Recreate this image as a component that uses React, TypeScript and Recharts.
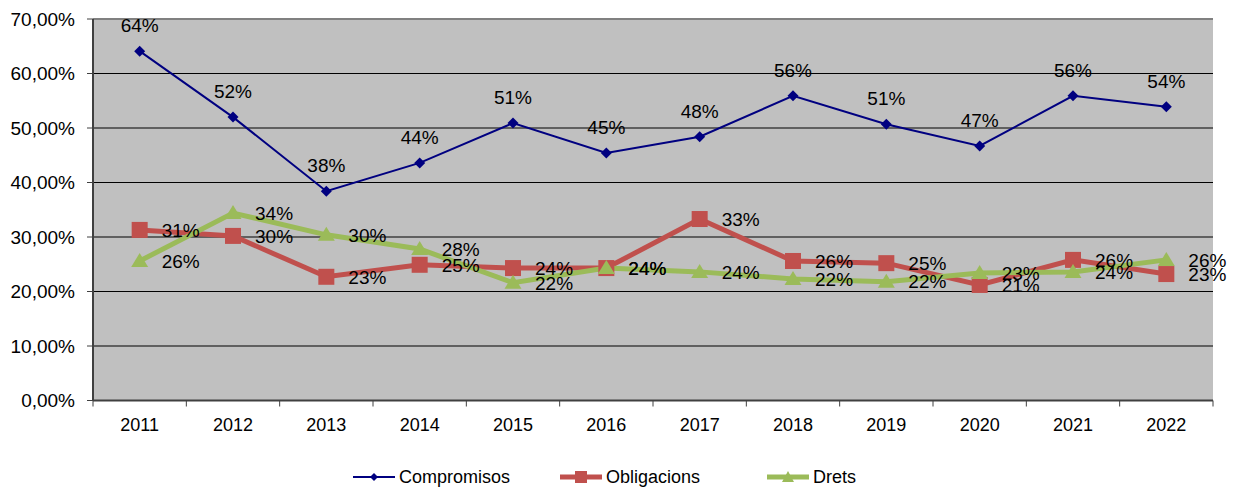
import {
  CartesianGrid,
  LabelList,
  Line,
  LineChart,
  ReferenceLine,
  XAxis,
  YAxis,
} from "recharts";

const years = ["2011", "2012", "2013", "2014", "2015", "2016", "2017", "2018", "2019", "2020", "2021", "2022"];
const compromisos = [64.1, 52.0, 38.4, 43.6, 50.9, 45.4, 48.4, 55.9, 50.7, 46.7, 55.9, 53.9];
const obligacions = [31.3, 30.2, 22.7, 24.9, 24.3, 24.3, 33.3, 25.6, 25.2, 21.2, 25.8, 23.2];
const drets = [25.6, 34.4, 30.4, 27.8, 21.6, 24.3, 23.6, 22.3, 21.8, 23.4, 23.6, 25.8];
const yTicks = [0, 10, 20, 30, 40, 50, 60, 70];

const chartData = years.map((year, i) => ({
  year,
  compromisos: compromisos[i],
  obligacions: obligacions[i],
  drets: drets[i],
}));

const FONT = '"Liberation Sans", Arial, sans-serif';
const NAVY = "#000080";
const RED = "#C0504D";
const GREEN = "#9BBB59";

const WIDTH = 1227;
const HEIGHT = 483;
const MARGIN = { top: 11, right: 22, left: 0, bottom: 60 };
const Y_AXIS_W = 85;
const X_AXIS_H = 30.5;
const PLOT_W = WIDTH - MARGIN.left - MARGIN.right - Y_AXIS_W;
const BAND = PLOT_W / years.length;
const AXIS_Y = HEIGHT - MARGIN.bottom - X_AXIS_H;

const pct = (v: any) => `${Math.round(Number(v))}%`;

function diamondDot(props: any) {
  const { cx, cy, index } = props;
  if (cx == null || cy == null) return <g key={`d-${index}`} />;
  const r = 5.5;
  return (
    <path
      key={`d-${index}`}
      d={`M${cx},${cy - r}L${cx + r},${cy}L${cx},${cy + r}L${cx - r},${cy}Z`}
      fill={NAVY}
    />
  );
}

function squareDot(props: any) {
  const { cx, cy, index } = props;
  if (cx == null || cy == null) return <g key={`s-${index}`} />;
  return <rect key={`s-${index}`} x={cx - 8} y={cy - 8} width={16} height={16} fill={RED} />;
}

function triangleDot(props: any) {
  const { cx, cy, index } = props;
  if (cx == null || cy == null) return <g key={`t-${index}`} />;
  return (
    <path
      key={`t-${index}`}
      d={`M${cx},${cy - 8}L${cx + 8.5},${cy + 6}L${cx - 8.5},${cy + 6}Z`}
      fill={GREEN}
    />
  );
}

function YearTick(props: any) {
  const { x, payload, index } = props;
  const half = BAND / 2;
  return (
    <g>
      <line x1={x - half} x2={x - half} y1={AXIS_Y} y2={AXIS_Y + 6} stroke="#404040" />
      {index === years.length - 1 && (
        <line x1={x + half} x2={x + half} y1={AXIS_Y} y2={AXIS_Y + 6} stroke="#404040" />
      )}
      <text
        x={x}
        y={AXIS_Y + 18}
        dy="0.71em"
        textAnchor="middle"
        fill="#000"
        fontSize={18}
        fontFamily={FONT}
      >
        {payload.value}
      </text>
    </g>
  );
}

function LegendIcon({ kind }: { kind: "diamond" | "square" | "triangle" }) {
  const color = kind === "diamond" ? NAVY : kind === "square" ? RED : GREEN;
  return (
    <svg width={44} height={14} style={{ marginRight: 3 }}>
      <line x1={1} x2={43} y1={7} y2={7} stroke={color} strokeWidth={kind === "diamond" ? 2 : 5} />
      {kind === "diamond" && <path d="M22,3L26,7L22,11L18,7Z" fill={color} />}
      {kind === "square" && <rect x={16} y={1} width={12} height={12} fill={color} />}
      {kind === "triangle" && <path d="M22,1L28,12L16,12Z" fill={color} />}
    </svg>
  );
}

const legendItems = [
  { name: "Compromisos", kind: "diamond" as const, width: 207 },
  { name: "Obligacions", kind: "square" as const, width: 207 },
  { name: "Drets", kind: "triangle" as const, width: 125 },
];

export default function App() {
  return (
    <div style={{ position: "relative", width: WIDTH, height: HEIGHT, background: "#fff" }}>
      <LineChart width={WIDTH} height={HEIGHT} data={chartData} margin={MARGIN}>
        <CartesianGrid vertical={false} stroke="#000" fill="#C0C0C0" fillOpacity={1} />
        <XAxis
          dataKey="year"
          height={X_AXIS_H}
          padding={{ left: BAND / 2, right: BAND / 2 }}
          interval={0}
          tickLine={false}
          axisLine={{ stroke: "#404040", strokeWidth: 2 }}
          tick={<YearTick />}
        />
        <YAxis
          width={Y_AXIS_W}
          domain={[0, 70]}
          ticks={yTicks}
          interval={0}
          tickSize={6}
          tickMargin={12}
          tickLine={{ stroke: "#404040" }}
          axisLine={{ stroke: "#404040", strokeWidth: 2 }}
          tickFormatter={(v) => `${Number(v).toFixed(2).replace(".", ",")}%`}
          tick={{ fontSize: 19, fill: "#000", fontFamily: FONT }}
        />
        <YAxis
          yAxisId="r"
          orientation="right"
          width={0}
          domain={[0, 70]}
          tick={false}
          tickLine={false}
          axisLine={{ stroke: "#808080", strokeWidth: 2 }}
        />
        <ReferenceLine y={70} stroke="#808080" strokeWidth={2} />

        <Line dataKey="compromisos" stroke={NAVY} strokeWidth={2} dot={false} activeDot={false} isAnimationActive={false} />
        <Line dataKey="obligacions" stroke={RED} strokeWidth={5} dot={false} activeDot={false} isAnimationActive={false} />
        <Line dataKey="drets" stroke={GREEN} strokeWidth={5} dot={false} activeDot={false} isAnimationActive={false} />

        <Line dataKey="compromisos" stroke="none" dot={diamondDot} activeDot={false} isAnimationActive={false}>
          <LabelList
            dataKey="compromisos"
            position="top"
            offset={19}
            formatter={pct}
            fill="#000"
            stroke="none"
            fontSize={19}
            fontFamily={FONT}
          />
        </Line>
        <Line dataKey="obligacions" stroke="none" dot={squareDot} activeDot={false} isAnimationActive={false}>
          <LabelList
            dataKey="obligacions"
            position="right"
            offset={22}
            formatter={pct}
            fill="#000"
            stroke="none"
            fontSize={19}
            fontFamily={FONT}
          />
        </Line>
        <Line dataKey="drets" stroke="none" dot={triangleDot} activeDot={false} isAnimationActive={false}>
          <LabelList
            dataKey="drets"
            position="right"
            offset={22}
            formatter={pct}
            fill="#000"
            stroke="none"
            fontSize={19}
            fontFamily={FONT}
          />
        </Line>
      </LineChart>

      <div
        style={{
          position: "absolute",
          left: 0,
          top: 458,
          width: WIDTH,
          height: 22,
          display: "flex",
          justifyContent: "center",
          alignItems: "center",
          fontFamily: FONT,
          fontSize: 18,
          color: "#000",
        }}
      >
        {legendItems.map((item) => (
          <div key={item.name} style={{ width: item.width, display: "flex", alignItems: "center" }}>
            <LegendIcon kind={item.kind} />
            <span>{item.name}</span>
          </div>
        ))}
      </div>
    </div>
  );
}
